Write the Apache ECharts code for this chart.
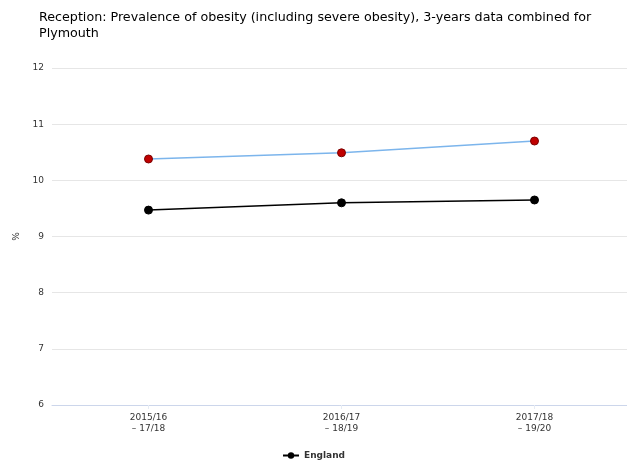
<!DOCTYPE html>
<html><head><meta charset="utf-8">
<script src="https://cdn.jsdelivr.net/npm/echarts@6/dist/echarts.min.js"></script>
<style>html,body{margin:0;padding:0;background:#fff}#c{width:627px;height:464px}</style>
</head><body><div id="c"></div>
<script>
const categories = ['2015/16\n\u2013 17/18', '2016/17\n\u2013 18/19', '2017/18\n\u2013 19/20'];
const plymouth = [10.38, 10.49, 10.70];
const england = [9.47, 9.60, 9.65];
const yTicks = [6, 7, 8, 9, 10, 11, 12];

const chart = echarts.init(document.getElementById('c'), null, {renderer: 'canvas'});
chart.setOption({
  animation: false,
  title: {
    text: 'Reception: Prevalence of obesity (including severe obesity), 3-years data combined for\nPlymouth',
    left: 34, top: 5,
    textStyle: {fontFamily: 'DejaVu Sans', fontSize: 12.7, fontWeight: 'normal', color: '#000', lineHeight: 16}
  },
  legend: {
    data: ['England'],
    bottom: -1, left: 'center',
    itemWidth: 16, itemHeight: 8,
    textStyle: {fontFamily: 'DejaVu Sans', fontSize: 9, fontWeight: 'bold', color: '#333'}
  },
  grid: {left: 52, width: 579, top: 68, bottom: 59, containLabel: false, outerBoundsMode: 'none'},
  xAxis: {
    type: 'category', data: categories, boundaryGap: true,
    axisLine: {lineStyle: {color: '#ccd6eb'}},
    axisTick: {show: true, alignWithLabel: true, length: 4, lineStyle: {color: '#e6ecf5'}},
    axisLabel: {fontFamily: 'DejaVu Sans', fontSize: 9, color: '#333', lineHeight: 11, margin: 7}
  },
  yAxis: {
    type: 'value', min: yTicks[0], max: yTicks[yTicks.length - 1], interval: 1,
    name: '%', nameLocation: 'middle', nameGap: 31, nameRotate: 90,
    nameTextStyle: {fontFamily: 'DejaVu Sans', fontSize: 9, color: '#333'},
    axisLine: {show: false}, axisTick: {show: false},
    splitLine: {lineStyle: {color: '#e6e6e6'}},
    axisLabel: {fontFamily: 'DejaVu Sans', fontSize: 9, color: '#333', margin: 8}
  },
  series: [
    {
      name: 'Plymouth', type: 'line', data: plymouth,
      symbol: 'circle', symbolSize: 8,
      lineStyle: {color: '#7cb5ec', width: 1.5},
      itemStyle: {color: '#c00000', borderColor: '#7a0000', borderWidth: 1}
    },
    {
      name: 'England', type: 'line', data: england,
      symbol: 'circle', symbolSize: 8,
      lineStyle: {color: '#000', width: 1.5},
      itemStyle: {color: '#000', borderColor: '#000'}
    }
  ]
});
</script></body></html>
